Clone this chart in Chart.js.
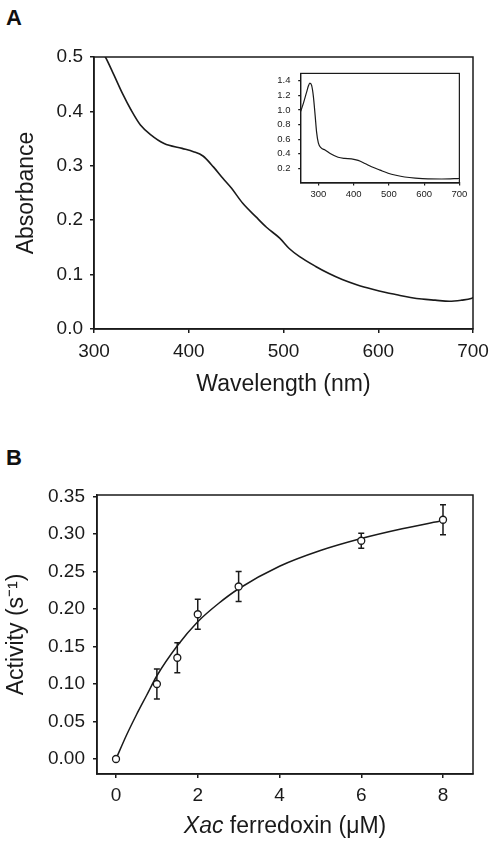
<!DOCTYPE html>
<html lang="en">
<head>
    <meta charset="UTF-8">
    <title>Xac ferredoxin: spectrum and activity</title>
    <script src="https://cdn.jsdelivr.net/npm/chart.js"></script>
    <style>
        body {
            margin: 0;
            padding: 0;
            background: #fff;
            font-family: "Liberation Sans", Arial, sans-serif;
        }
        #wrap { position: relative; width: 498px; height: 845px; }
        canvas { position: absolute; }
        .panel {
            position: absolute;
            font-weight: bold;
            font-size: 22px;
            line-height: 1;
            color: #111;
        }
    </style>
</head>
<body>
<div id="wrap">
    <div class="panel" style="left:6px; top:7px;">A</div>
    <canvas id="spectrum" width="498" height="420" style="left:0; top:0;"></canvas>
    <canvas id="inset" width="202" height="140" style="left:268px; top:60px;"></canvas>
    <div class="panel" style="left:6px; top:447px;">B</div>
    <canvas id="activity" width="498" height="405" style="left:0; top:440px;"></canvas>
</div>

<script>
    // Panel A - visible spectrum
    const wavelength = [300, 306, 312, 321, 330, 339, 349, 360, 374, 393, 405, 415, 426, 436, 445,
        457, 471, 482, 496, 506, 517, 534, 548, 562, 578, 594, 608, 622, 634, 646, 660, 675, 688,
        698, 700];
    const absorbance = [0.53, 0.515, 0.50, 0.467, 0.433, 0.403, 0.375, 0.357, 0.341, 0.332, 0.326,
        0.318, 0.298, 0.277, 0.259, 0.231, 0.206, 0.187, 0.167, 0.148, 0.133, 0.115, 0.102, 0.091,
        0.081, 0.073, 0.067, 0.062, 0.058, 0.055, 0.053, 0.051, 0.053, 0.056, 0.058];
    const wlTicks = [300, 400, 500, 600, 700];
    const absTicks = [0, 0.1, 0.2, 0.3, 0.4, 0.5];

    // inset - full UV/vis spectrum
    const insetWavelength = [250, 258, 267, 272, 276, 281, 286, 291, 295, 300, 308, 319, 335, 356,
        375, 394, 413, 432, 451, 475, 498, 520, 545, 575, 611, 650, 695, 700];
    const insetAbsorbance = [0.98, 1.096, 1.248, 1.33, 1.366, 1.335, 1.183, 0.922, 0.70, 0.548,
        0.48, 0.452, 0.40, 0.352, 0.336, 0.33, 0.309, 0.268, 0.222, 0.176, 0.134, 0.106, 0.082,
        0.066, 0.056, 0.055, 0.061, 0.062];
    const insetXTicks = [300, 400, 500, 600, 700];
    const insetYTicks = [0.2, 0.4, 0.6, 0.8, 1.0, 1.2, 1.4];

    // Panel B - activity vs ferredoxin concentration
    const conc = [0, 1, 1.5, 2, 3, 6, 8];
    const activity = [0, 0.100, 0.135, 0.193, 0.230, 0.291, 0.319];
    const activityErr = [0, 0.020, 0.020, 0.020, 0.020, 0.010, 0.020];
    const fitConc = [0, 0.25, 0.5, 0.75, 1, 1.5, 2, 2.5, 3, 4, 5, 6, 7, 8];
    const fitActivity = [0, 0.031, 0.059, 0.085, 0.111, 0.151, 0.183, 0.207, 0.227, 0.257, 0.278,
        0.294, 0.307, 0.318];
    const concTicks = [0, 2, 4, 6, 8];
    const activityTicks = [0, 0.05, 0.10, 0.15, 0.20, 0.25, 0.30, 0.35];

    const ink = '#1a1a1a';
    const family = '"Liberation Sans", Arial, sans-serif';

    const toPoints = (xs, ys) => xs.map((x, i) => ({ x: x, y: ys[i] }));
    const fixedTicks = list => scale => { scale.ticks = list.map(v => ({ value: v })); };

    // closes the box round the plot area
    const frame = {
        id: 'frame',
        afterDatasetsDraw(chart, args, opts) {
            const { ctx, chartArea: a } = chart;
            ctx.save();
            ctx.strokeStyle = ink;
            ctx.lineWidth = opts.width || 1.5;
            ctx.strokeRect(a.left, a.top, a.right - a.left, a.bottom - a.top);
            ctx.restore();
        }
    };

    function axis(tickList, fmt, size, tickLen, pad, width) {
        return {
            type: 'linear',
            afterBuildTicks: fixedTicks(tickList),
            grid: { display: true, drawOnChartArea: false, drawTicks: true, tickLength: tickLen, color: ink, lineWidth: width },
            border: { display: true, color: ink, width: width },
            ticks: { color: ink, padding: pad, font: { family: family, size: size }, callback: fmt }
        };
    }

    // ---- Panel A ----
    const ax = axis(wlTicks, v => v, 19, 4, 7.5, 1.5);
    ax.min = 300; ax.max = 700;
    ax.afterFit = s => { s.height = 91; };
    ax.title = { display: true, text: 'Wavelength (nm)', color: ink, font: { family: family, size: 23 }, padding: { top: 0, bottom: 22 } };

    const ay = axis(absTicks, v => v.toFixed(1), 19, 4, 7, 1.5);
    ay.min = 0; ay.max = 0.5;
    ay.afterFit = s => { s.width = 94; };
    ay.title = { display: true, text: 'Absorbance', color: ink, font: { family: family, size: 23 }, padding: { top: 13.2, bottom: 0 } };

    new Chart(document.getElementById('spectrum'), {
        type: 'line',
        data: {
            datasets: [{
                data: toPoints(wavelength, absorbance),
                borderColor: ink,
                borderWidth: 1.6,
                pointRadius: 0,
                cubicInterpolationMode: 'monotone',
                fill: false
            }]
        },
        options: {
            responsive: false,
            animation: false,
            layout: { padding: { top: 57, right: 25, left: 0, bottom: 0 } },
            plugins: { legend: { display: false }, tooltip: { enabled: false }, frame: { width: 1.5 } },
            scales: { x: ax, y: ay }
        },
        plugins: [frame]
    });

    // ---- inset ----
    const ix = axis(insetXTicks, v => v, 9.5, 2.5, 2.7, 1.2);
    ix.min = 250; ix.max = 700;
    ix.afterFit = s => { s.height = 17; };

    const iy = axis(insetYTicks, v => v.toFixed(1), 9.5, 2.5, 7.7, 1.2);
    iy.min = 0; iy.max = 1.5;
    iy.afterFit = s => { s.width = 32.7; };

    new Chart(document.getElementById('inset'), {
        type: 'line',
        data: {
            datasets: [{
                data: toPoints(insetWavelength, insetAbsorbance),
                borderColor: ink,
                borderWidth: 1.2,
                pointRadius: 0,
                cubicInterpolationMode: 'monotone',
                fill: false
            }]
        },
        options: {
            responsive: false,
            animation: false,
            layout: { padding: { top: 9, right: 10, left: 0, bottom: 0 } },
            plugins: { legend: { display: false }, tooltip: { enabled: false }, frame: { width: 1.2 } },
            scales: { x: ix, y: iy }
        },
        plugins: [frame]
    });

    // ---- Panel B ----
    const errorBars = {
        id: 'errorBars',
        beforeDatasetsDraw(chart) {
            const { ctx, scales: { x, y } } = chart;
            ctx.save();
            ctx.strokeStyle = ink;
            ctx.lineWidth = 1.5;
            conc.forEach((c, i) => {
                if (!activityErr[i]) return;
                const px = x.getPixelForValue(c);
                const top = y.getPixelForValue(activity[i] + activityErr[i]);
                const bot = y.getPixelForValue(activity[i] - activityErr[i]);
                ctx.beginPath();
                ctx.moveTo(px, top); ctx.lineTo(px, bot);
                ctx.moveTo(px - 3, top); ctx.lineTo(px + 3, top);
                ctx.moveTo(px - 3, bot); ctx.lineTo(px + 3, bot);
                ctx.stroke();
            });
            ctx.restore();
        }
    };

    // x title with italic "Xac"
    const concTitle = {
        id: 'concTitle',
        afterDraw(chart) {
            const { ctx, chartArea: a } = chart;
            const y = chart.height - 18;
            const italic = 'italic 23px ' + family;
            const plain = '23px ' + family;
            ctx.save();
            ctx.fillStyle = ink;
            ctx.textBaseline = 'middle';
            ctx.font = italic;
            const w1 = ctx.measureText('Xac').width;
            ctx.font = plain;
            const w2 = ctx.measureText(' ferredoxin (\u03bcM)').width;
            let x = (a.left + a.right) / 2 - (w1 + w2) / 2;
            ctx.font = italic;
            ctx.fillText('Xac', x, y);
            ctx.font = plain;
            ctx.fillText(' ferredoxin (\u03bcM)', x + w1, y);
            ctx.restore();
        }
    };

    const bx = axis(concTicks, v => v, 19, 4, 6, 1.5);
    bx.min = -0.465; bx.max = 8.734;
    bx.afterFit = s => { s.height = 71; };

    const by = axis(activityTicks, v => v.toFixed(2), 19, 4, 8, 1.5);
    by.min = -0.02; by.max = 0.352;
    by.afterFit = s => { s.width = 97; };
    by.title = { display: true, text: 'Activity (s\u207b\u00b9)', color: ink, font: { family: family, size: 23 }, padding: { top: 3.2, bottom: 0 } };

    new Chart(document.getElementById('activity'), {
        type: 'line',
        data: {
            datasets: [{
                // measured points on top
                data: toPoints(conc, activity),
                showLine: false,
                pointRadius: 3.5,
                pointBackgroundColor: '#fff',
                pointBorderColor: ink,
                pointBorderWidth: 1.3
            }, {
                // fitted curve
                data: toPoints(fitConc, fitActivity),
                borderColor: ink,
                borderWidth: 1.5,
                pointRadius: 0,
                cubicInterpolationMode: 'monotone',
                fill: false
            }]
        },
        options: {
            responsive: false,
            animation: false,
            layout: { padding: { top: 55, right: 25, left: 0, bottom: 0 } },
            plugins: { legend: { display: false }, tooltip: { enabled: false }, frame: { width: 1.5 } },
            scales: { x: bx, y: by }
        },
        plugins: [frame, errorBars, concTitle]
    });
</script>
</body>
</html>
